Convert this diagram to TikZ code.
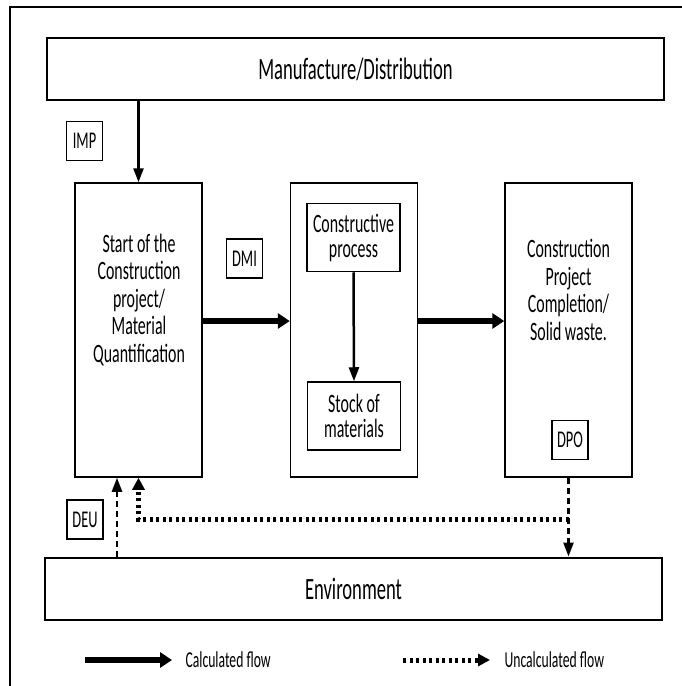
\documentclass[tikz,border=0pt]{standalone}
\usepackage{fontspec}
\setmainfont{Carlito}[FakeStretch=0.6]
\usepackage{tikz}
\usetikzlibrary{arrows.meta}

\begin{document}
\begin{tikzpicture}[x=1pt,y=-1pt,
		bar/.style={rectangle,draw,line width=2pt,minimum width=617pt,minimum height=62pt,font=\fontsize{31}{33}\selectfont},
		stage/.style={rectangle,draw,line width=1.5pt,minimum width=127pt,minimum height=294pt},
		inbox/.style={rectangle,draw,line width=1.5pt,inner sep=2pt,minimum width=93pt,minimum height=68pt,align=center,font=\fontsize{26.5}{25}\selectfont},
		tag/.style={rectangle,draw,line width=1.2pt,inner sep=2pt,minimum width=36pt,minimum height=39pt,font=\fontsize{24}{26}\selectfont},
		words/.style={align=center,font=\fontsize{26.5}{27.5}\selectfont},
		legtxt/.style={anchor=west,font=\fontsize{22.8}{24}\selectfont},
		flow/.style={line width=5.5pt,-{Triangle[length=12pt,width=15pt]}},
		thin flow/.style={line width=2.5pt,-{Triangle[length=14pt,width=10pt]}},
		dashflow/.style={line width=2.5pt,dash pattern=on 6pt off 4pt,-{Triangle[length=14pt,width=10pt]}},
		dotflow/.style={line width=5pt,dash pattern=on 3pt off 3.5pt,-{Triangle[length=12pt,width=12pt]}}]
		\useasboundingbox (0,0) rectangle (682,686);
		\draw[line width=2pt] (10,686) -- (10,7) -- (682,7);

		% boxes
		\path (355.5,69) node(mfg) [bar] {Manufacture/Distribution};
		\path (353.5,588.5) node(env) [bar] {Environment};
		\path (138.5,330) node(start) [stage] {};
		\path (354,330) node(mid) [stage] {};
		\path (568.5,330) node(done) [stage] {};
		\path (139,300) node(starttxt) [words] {Start of the\\Construction\\project/\\Material\\Quantification};
		\path (568.5,290) node(donetxt) [words] {Construction\\Project\\Completion/\\Solid waste.};
		\path (353.5,237.5) node(cproc) [inbox] {Constructive\\process};
		\path (354,416) node(smat) [inbox] {Stock of\\materials};

		% labels
		\path (84.5,141) node(imp) [tag] {IMP};
		\path (244.5,258.5) node(dmi) [tag] {DMI};
		\path (570,440) node(dpo) [tag] {DPO};
		\path (85,519.5) node(deu) [tag] {DEU};

		% flows
		\draw[thin flow] (start.north |- mfg.south) -- (start.north);
		\draw[thin flow] (cproc.south) -- (smat.north);
		\draw[flow] ([yshift=9pt]start.east) -- ([yshift=9pt]mid.west);
		\draw[flow] ([yshift=9pt]mid.east) -- ([yshift=9pt]done.west);
		\path ([xshift=-21.5pt]start.south) coordinate (deuup);
		\draw[dashflow] (deuup |- env.north) -- (deuup);
		\draw[dashflow] (done.south) -- (done.south |- env.north);
		\draw[dotflow] (done.south |- deu.center) -- (start.south |- deu.center) -- (start.south);

		% legend
		\path (85,660) coordinate (calc0);
		\path (172,660) coordinate (calc1);
		\path (403,660) coordinate (uncalc0);
		\path (490,660) coordinate (uncalc1);
		\draw[flow] (calc0) -- (calc1);
		\draw[dotflow] (uncalc0) -- (uncalc1);
		\path (182,660) node(calctxt) [legtxt] {Calculated flow};
		\path (501,660) node(uncalctxt) [legtxt] {Uncalculated flow};
\end{tikzpicture}
\end{document}
